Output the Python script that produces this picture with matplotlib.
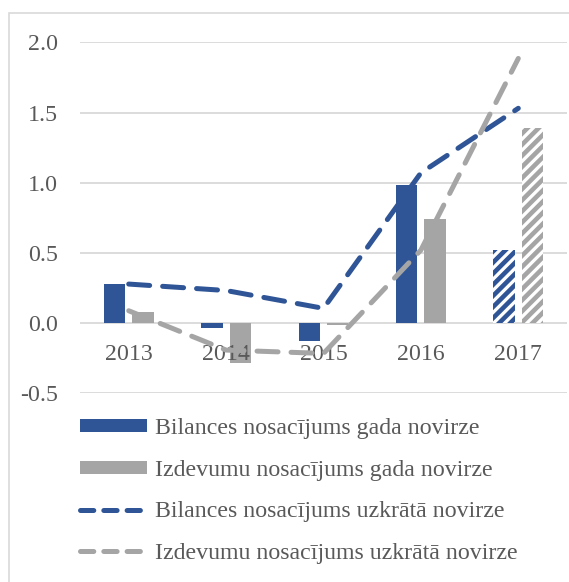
import matplotlib
matplotlib.use('Agg')
import matplotlib.pyplot as plt
import matplotlib.transforms as mtransforms
from matplotlib.patches import Rectangle, Patch
from matplotlib.lines import Line2D
import numpy as np

# --- data ---
years = ['2013', '2014', '2015', '2016', '2017']
bil_gada = [0.276, -0.033, -0.126, 0.983, 0.52]
izd_gada = [0.076, -0.287, -0.010, 0.741, 1.387]
bil_uzkr = [0.278, 0.232, 0.105, 1.07, 1.53]
izd_uzkr = [0.088, -0.192, -0.216, 0.52, 1.885]
prognoze = [False, False, False, False, True]   # hatched bars
yticks = [-0.5, 0.0, 0.5, 1.0, 1.5, 2.0]

labels = ['Bilances nosacījums gada novirze',
          'Izdevumu nosacījums gada novirze',
          'Bilances nosacījums uzkrātā novirze',
          'Izdevumu nosacījums uzkrātā novirze']

BLUE = '#2F5597'
GRAY = '#A5A5A5'
GRID = '#D9D9D9'
TEXT = '#595959'

plt.rcParams['font.family'] = ['Liberation Serif', 'DejaVu Serif']
plt.rcParams['axes.unicode_minus'] = False
plt.rcParams['hatch.linewidth'] = 3.3
FS = 17.2
LW = 3.6

fig = plt.figure(figsize=(5.69, 5.82), dpi=100)
ax = fig.add_axes([80/569, 1 - 393.3/582, 487/569, 351/582])

# outer chart frame (cropped on right/bottom)
fig.patches.append(Rectangle((9/569, -0.1), 1.2, 1 - 13/582 + 0.1,
                             transform=fig.transFigure, fill=False,
                             edgecolor=GRID, linewidth=1.2, zorder=0))

x = np.arange(len(years))
w = 0.22
off = 0.145

for i in x:
    for val, dx, col in ((bil_gada[i], -off, BLUE), (izd_gada[i], off, GRAY)):
        if prognoze[i]:
            ax.bar(i + dx, val, width=w, facecolor='white', edgecolor=col,
                   hatch='///', linewidth=0, zorder=2)
        else:
            ax.bar(i + dx, val, width=w, color=col, linewidth=0, zorder=2)

dash = (4.2, 2.6)
ax.plot(x, bil_uzkr, color=BLUE, lw=LW, dashes=dash,
        dash_capstyle='round', dash_joinstyle='round', zorder=3)
ax.plot(x, izd_uzkr, color=GRAY, lw=LW, dashes=dash,
        dash_capstyle='round', dash_joinstyle='round', zorder=3)

ax.set_xlim(-0.5, len(years) - 0.5)
ax.set_ylim(-0.5, 2.0)
ax.set_yticks(yticks)
ax.set_yticklabels([f'{t:.1f}' for t in yticks])
ax.set_xticks([])
ax.yaxis.grid(True, color=GRID, linewidth=1.3)
ax.set_axisbelow(True)
for s in ax.spines.values():
    s.set_visible(False)
ax.tick_params(axis='y', length=0, pad=16, labelsize=FS, labelcolor=TEXT)

# category labels sit just under the zero line
trans = mtransforms.offset_copy(ax.transData, fig=fig, y=-37 * 0.72, units='points')
for i, yr in enumerate(years):
    ax.text(i, 0, yr, transform=trans, ha='center', va='baseline',
            fontsize=FS, color=TEXT, zorder=2.5)

leg_dash = (2.66, 2.0)
handles = [Patch(facecolor=BLUE, edgecolor='none'),
           Patch(facecolor=GRAY, edgecolor='none'),
           Line2D([], [], color=BLUE, lw=LW, dashes=leg_dash, dash_capstyle='round'),
           Line2D([], [], color=GRAY, lw=LW, dashes=leg_dash, dash_capstyle='round')]
fig.legend(handles, labels, loc='upper left', bbox_to_anchor=(80/569, 1 - 418/582),
           frameon=False, fontsize=FS, labelcolor=TEXT, borderpad=0,
           borderaxespad=0, handlelength=2.8, handleheight=0.46,
           handletextpad=0.36, labelspacing=0.86)

plt.savefig('out.png', dpi=100, facecolor='white')
